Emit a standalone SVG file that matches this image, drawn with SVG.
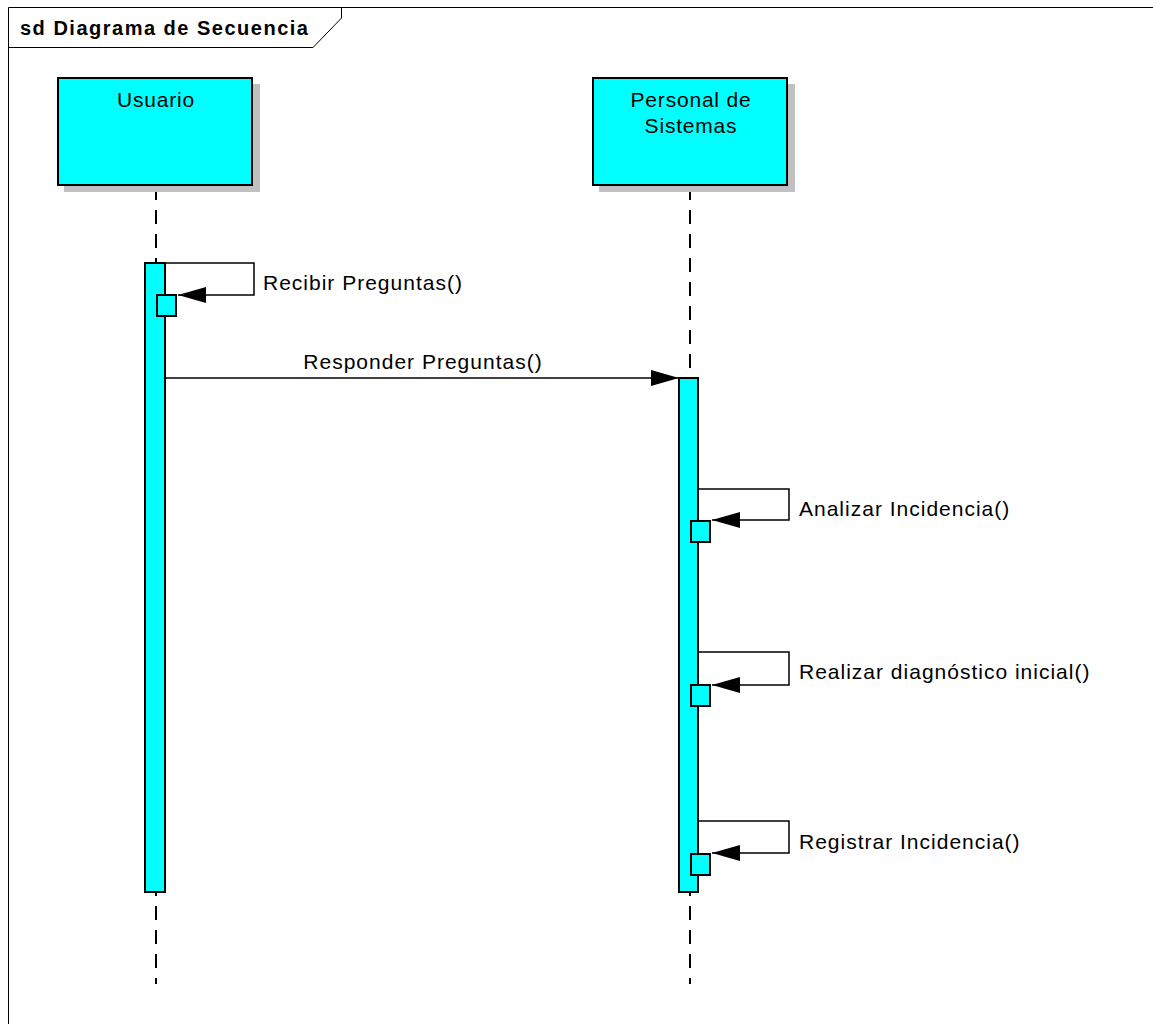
<svg xmlns="http://www.w3.org/2000/svg" width="1153" height="1024" viewBox="0 0 1153 1024">
  <style>
    .frame { fill: none; stroke: #000; stroke-width: 1; }
    .title { font-family: "Liberation Sans", Arial, sans-serif; font-size: 20px; font-weight: bold; letter-spacing: 1.5px; fill: #000; }
    .shadow { fill: #c0c0c0; }
    .actor { fill: #00ffff; stroke: #000; stroke-width: 2; }
    .name { font-family: "Liberation Sans", Arial, sans-serif; font-size: 21px; letter-spacing: 0.8px; fill: #000; text-anchor: middle; }
    .lifeline { stroke: #000; stroke-width: 2; stroke-dasharray: 14 10; fill: none; }
    .act { fill: #00ffff; stroke: #000; stroke-width: 2; }
    .msg { fill: none; stroke: #000; stroke-width: 1.5; }
    .label { font-family: "Liberation Sans", Arial, sans-serif; font-size: 21px; letter-spacing: 1px; fill: #000; }
  </style>
  <defs>
    <marker id="head" markerWidth="30" markerHeight="18" refX="28" refY="9" orient="auto" markerUnits="userSpaceOnUse">
      <path d="M0,1 L28,9 L0,17 Z" fill="#000"/>
    </marker>
  </defs>
  <rect width="1153" height="1024" fill="#fff"/>

  <!-- frame with title tab -->
  <g id="frame">
    <path class="frame" d="M8.5,1024 V7.5 H1153"/>
    <path class="frame" d="M8.5,47.5 H313 L341.5,18 V7.5"/>
    <text class="title" x="20" y="35">sd Diagrama de Secuencia</text>
  </g>

  <!-- lifelines -->
  <g id="lifelines">
    <line class="lifeline" x1="156" y1="186" x2="156" y2="984"/>
    <line class="lifeline" x1="690" y1="186" x2="690" y2="984"/>
  </g>

  <g id="usuario">
    <rect class="shadow" x="64" y="84" width="196" height="108"/>
    <rect class="actor" x="58" y="78" width="194" height="107"/>
    <text class="name" x="156" y="107">Usuario</text>
  </g>

  <g id="personal">
    <rect class="shadow" x="599" y="84" width="196" height="108"/>
    <rect class="actor" x="593" y="78" width="194" height="107"/>
    <text class="name" x="691" y="107">Personal de</text>
    <text class="name" x="691" y="133">Sistemas</text>
  </g>

  <!-- activation bars -->
  <g id="activations">
    <rect class="act" x="145" y="263" width="20" height="629"/>
    <rect class="act" x="157" y="295" width="19" height="21"/>
    <rect class="act" x="679" y="378" width="19" height="514"/>
    <rect class="act" x="691" y="521" width="19" height="21"/>
    <rect class="act" x="691" y="685" width="19" height="21"/>
    <rect class="act" x="691" y="854" width="19" height="21"/>
  </g>

  <!-- messages -->
  <g id="connectors">
    <path class="msg" d="M166,263 H254 V295 H178" marker-end="url(#head)"/>
    <path class="msg" d="M166,378 H679" marker-end="url(#head)"/>
    <path class="msg" d="M699,489 H789 V520 H712" marker-end="url(#head)"/>
    <path class="msg" d="M699,652 H789 V685 H712" marker-end="url(#head)"/>
    <path class="msg" d="M699,821 H789 V853 H712" marker-end="url(#head)"/>
  </g>

  <g id="labels">
    <text class="label" x="263" y="290">Recibir Preguntas()</text>
    <text class="label" x="423" y="369" text-anchor="middle">Responder Preguntas()</text>
    <text class="label" x="799" y="516">Analizar Incidencia()</text>
    <text class="label" x="799" y="679">Realizar diagnóstico inicial()</text>
    <text class="label" x="799" y="849">Registrar Incidencia()</text>
  </g>
</svg>
